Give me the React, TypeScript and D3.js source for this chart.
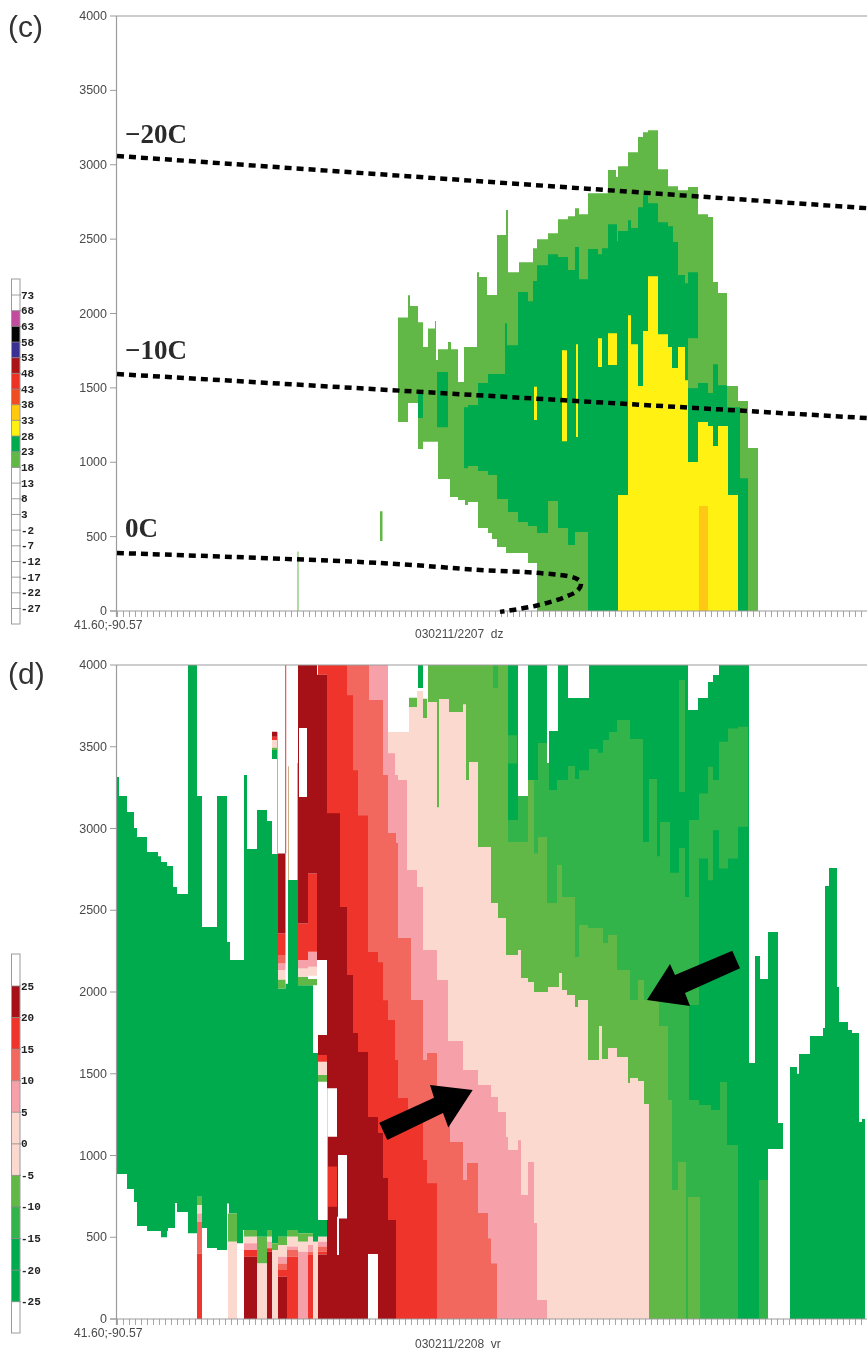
import React from "react";
import * as d3 from "d3";

// ---------- palette and legends ----------
const dzLegendTicks = [73, 68, 63, 58, 53, 48, 43, 38, 33, 28, 23, 18, 13, 8, 3, -2, -7, -12, -17, -22, -27];
const dzLegendBins: [number, number, string][] = [
  [63, 68, "#C24D9F"], [58, 63, "#050505"], [53, 58, "#3B3192"], [48, 53, "#AA1419"], [43, 48, "#EE3124"],
  [38, 43, "#F04D23"], [33, 38, "#FFC90E"], [28, 33, "#FFF212"], [23, 28, "#00AB4E"], [18, 23, "#62B846"],
];
const vrLegendTicks = [25, 20, 15, 10, 5, 0, -5, -10, -15, -20, -25];
const C = {
  darkRed: "#A51117", red: "#EF352B", salmon: "#F2685F", pink: "#F6A1AA", peach: "#FCD9CF",
  light: "#62B846", mid: "#33B44A", dark: "#00AB4E", yellow: "#FFF212", orange: "#FFC815", white: "#FFFFFF", tan: "#C9B28A",
};
const vrLegendBins: [number, number, string][] = [
  [20, 25, C.darkRed], [15, 20, C.red], [10, 15, C.salmon], [5, 10, C.pink], [0, 5, C.peach], [-5, 0, C.peach],
  [-10, -5, C.light], [-15, -10, C.mid], [-20, -15, C.dark], [-25, -20, C.dark],
];
const altitudeTicks = [0, 500, 1000, 1500, 2000, 2500, 3000, 3500, 4000];

// ---------- panel (c) reflectivity, columns: [gate, top m, base m]; the next row closes the column ----------
type Row = number[];
const dzWeak: Row[] = [
  [398, 1973, 1270], [408, 2123, 1398], [410, 2050, 1398], [418, 1942, 1089], [423, 1774, 1137], [428, 1900, 1137], [435, 1950, 1137], [436, 1687, 1137],
  [438, 1760, 887], [448, 1808, 887], [450, 1808, 766], [451, 1760, 766], [458, 1539, 746], [464, 1774, 746], [465, 1774, 712], [468, 1774, 733],
  [477, 2278, 733], [478, 2278, 558], [479, 2245, 558], [487, 2124, 558], [488, 2124, 524], [492, 2124, 484], [497, 2527, 430], [506, 2695, 390],
  [508, 2278, 390], [519, 2345, 390], [528, 2345, 322], [533, 2439, 322], [537, 2500, 0], [548, 2540, 0], [558, 2634, 0], [568, 2654, 0], [575, 2708, 0],
  [579, 2668, 0], [588, 2809, 0], [608, 2964, 0], [616, 2917, 0], [618, 2990, 0], [628, 3084, 0], [638, 3186, 0], [643, 3218, 0], [648, 3232, 0],
  [658, 2970, 0], [668, 2856, 0], [678, 2829, 0], [688, 2850, 0], [698, 2668, 0], [708, 2648, 0], [713, 2211, 0], [718, 2137, 0], [727, 1512, 0],
  [738, 1411, 0], [748, 1095, 0], [758, 0, 0],
];
const dzWeakSpecks: Row[] = [[297.5, 400, 0], [298.5, 0, 0], [380, 670, 470], [382.5, 0, 0]];
const dzModerate: Row[] = [
  [418, 1465, 1297], [423, 0, 0], [437, 1606, 1236], [448, 0, 0], [464, 1370, 960], [468, 1385, 975], [478, 1532, 941], [488, 1593, 914], [497, 1593, 753],
  [505, 1935, 753], [507, 1787, 753], [508, 1787, 665], [518, 2144, 598], [528, 2083, 571], [533, 2218, 571], [537, 2325, 524], [548, 2399, 739],
  [558, 2380, 558], [568, 2292, 443], [575, 2447, 531], [579, 2231, 531], [588, 2433, 0], [598, 2399, 0], [602, 2439, 0], [608, 2600, 0], [617, 2486, 0],
  [618, 2554, 0], [628, 2627, 0], [631, 2574, 0], [638, 2715, 0], [643, 2795, 0], [648, 2742, 0], [658, 2614, 0], [668, 2587, 0], [673, 2480, 0],
  [678, 2258, 0], [685, 2204, 0], [688, 2278, 0], [698, 1532, 0], [708, 1465, 0], [713, 1659, 0], [718, 1518, 0], [727, 1370, 0], [740, 893, 0], [748, 0, 0],
];
const dzWeakPatch: Row[] = [[688, 1834, 1498], [698, 0, 0]];
const dzStrong: Row[] = [
  [534, 1508, 1284], [537, 0, 0], [562, 1753, 1142], [567, 0, 0], [576, 1794, 1170], [578, 0, 0], [598, 1834, 1640], [602, 0, 0], [608, 1868, 1653], [617, 0, 0],
  [618, 780, 0], [628, 1989, 0], [631, 1794, 0], [638, 1512, 0], [643, 1882, 0], [648, 2251, 0], [658, 1861, 0], [668, 1774, 0], [672, 1633, 0], [678, 1774, 0],
  [685, 1552, 0], [688, 1001, 0], [698, 1270, 0], [708, 1244, 0], [713, 1109, 0], [718, 1244, 0], [728, 780, 0], [738, 0, 0],
];
const dzCore: Row[] = [[699, 706, 0], [708, 0, 0]];

// isotherms: gate and altitude
const isoMinus20X = [117, 867];
const isoMinus20Alt = [3059, 2708];
const isoMinus10X = [117, 867];
const isoMinus10Alt = [1593, 1297];
const isoZeroX = [117, 380, 480, 540, 575, 581, 578, 565, 535, 500];
const isoZeroAlt = [390, 323, 276, 255, 222, 190, 140, 94, 34, -6];

// ---------- panel (d) radial velocity, staircases: each colour fills from its top down ----------
const vrDarkGreen: Row[] = [
  [508, 4000], [518, 3199], [528, 4000], [547, 3400], [549, 3596], [558, 4000], [568, 3798], [589, 4000], [688, 3725], [698, 3798], [708, 3896], [713, 3939],
  [719, 4000], [749, 1566], [755, 2220], [760, 2080], [768, 2367, 1040], [778, 1199, 1040], [783, 0], [790, 1541], [797, 1500], [799, 1621], [810, 1731],
  [823, 1780], [825, 2648], [829, 2758], [837, 2030], [839, 1816], [848, 1767], [852, 1750], [859, 1205], [862, 1223], [865, 0],
];
const vrMidGreen: Row[] = [
  [508, 3052], [518, 3199], [528, 3296], [538, 3523], [547, 3400], [549, 3235], [557, 3296], [568, 3382], [575, 3302], [579, 3357], [589, 3486], [598, 3464],
  [603, 3541], [609, 3590], [617, 3664], [630, 3547], [643, 2917], [649, 3302], [657, 2830], [660, 3040], [670, 2730], [679, 2881], [685, 2581], [689, 3052], [699, 0],
];
const vrLightGreen: Row[] = [
  [409, 3800], [417, 0], [423, 3793], [427, 0], [428, 4000], [493, 3859], [498, 4000], [508, 2917], [528, 3296], [534, 2847], [538, 2948], [547, 2544], [557, 2776],
  [562, 2581], [575, 2214], [579, 2410], [588, 2391], [603, 2300], [608, 2348], [617, 2134], [630, 1951], [638, 2073], [644, 1951], [659, 1792], [668, 1339],
  [672, 789], [678, 960], [686, 0], [688, 746], [700, 0],
];
const vrPeach: Row[] = [
  [388, 3590], [409, 3743], [417, 3841], [423, 3676], [427, 3774], [437, 3130], [439, 3792], [449, 3712], [463, 3760], [466, 3296], [469, 3407], [478, 2887], [491, 2544],
  [498, 2452], [506, 2226], [518, 2257], [521, 2086], [528, 2061], [534, 2000], [548, 2030], [559, 2116], [562, 2012], [567, 1981], [575, 1908], [578, 1951],
  [588, 1584], [599, 1792], [602, 1590], [608, 1657], [617, 1602], [628, 1443], [630, 1474], [638, 1456], [644, 1315], [649, 0],
];
const vrPink: Row[] = [
  [369, 4000], [388, 3461], [395, 3327], [398, 3296], [407, 2746], [417, 2642], [423, 2257], [437, 2073], [448, 1700], [463, 1523], [478, 1431], [491, 1358],
  [498, 1266], [506, 1113], [508, 1034], [518, 1094], [521, 758], [528, 960], [534, 587], [537, 116], [547, 0],
];
const vrSalmon: Row[] = [
  [347, 4000], [369, 3786], [383, 3327], [388, 2972], [396, 2911], [398, 2330], [411, 1951], [423, 1584], [427, 1627], [437, 1339], [450, 1082], [463, 850],
  [467, 954], [478, 648], [488, 493], [491, 340], [497, 0],
];
const vrRed: Row[] = [
  [327, 4000], [347, 3815], [353, 3357], [358, 3080], [368, 2244], [378, 2182], [383, 1950], [388, 1828], [395, 1584], [398, 1351], [408, 1235], [423, 972], [427, 831], [437, 0],
];
const vrDarkRed: Row[] = [
  [327, 3094], [340, 2520], [347, 2104], [353, 1749], [358, 1633], [368, 1235], [378, 1137], [383, 862], [388, 605], [396, 0],
];
// the inbound mass on the left: [gate, top, base]
const vrInbound: Row[] = [
  [117, 3315, 887], [119, 3199, 887], [127, 3101, 795], [134, 3003, 716], [137, 2948, 569], [147, 2856, 538], [158, 2830, 538], [161, 2795, 500], [167, 2771, 538],
  [168, 2771, 556], [173, 2642, 556], [175, 2642, 709], [177, 2599, 654], [188, 4000, 525], [197, 3199, 748], [202, 2398, 556], [207, 2398, 434], [217, 3199, 422],
  [227, 2306, 707], [229, 2306, 646], [230, 2196, 646], [237, 2196, 463], [243, 2196, 544], [244, 3327, 544], [247, 2875, 544], [257, 3113, 503], [267, 3046, 544],
  [272, 2844, 463], [278, 2022, 503], [285.5, 2050, 503], [287, 2050, 544], [288, 2685, 544], [298, 2042, 524], [308, 2042, 524], [313, 1627, 473], [318, 605, 503], [327, 0, 0],
];
// loose cells: [from gate, to gate, low m, high m]
const vrCellsDarkGreen: Row[] = [[418, 423, 3860, 4000], [689, 699, 1339, 1920], [272, 277, 3425, 3480]];
const vrCellsMidGreen: Row[] = [
  [699, 708, 2817, 3214], [708, 713, 2684, 3378], [713, 719, 2990, 3296], [719, 728, 2756, 3530], [728, 738, 2817, 3612], [738, 748, 3010, 3622], [679, 685, 3224, 3908],
  [508, 517, 3398, 3570], [493, 498, 3859, 4000], [689, 695, 0, 1339], [695, 711, 0, 1309], [711, 720, 0, 1278], [720, 727, 0, 1449], [727, 738, 0, 1064], [759, 768, 0, 850],
];
const vrCellsLight: Row[] = [
  [197, 202, 697, 748], [228, 237, 473, 646], [244, 257, 503, 544], [257, 267, 340, 503], [267, 272, 503, 544], [272, 278, 422, 463], [278, 287, 453, 503], [287, 298, 503, 544],
  [298, 308, 473, 524], [308, 313, 503, 524], [278, 285.5, 2022, 2077], [298, 308, 2042, 2093], [308, 317, 2042, 2080], [318, 327, 1451, 1492], [272, 277, 3480, 3496],
];
const vrCellsPeach: Row[] = [
  [197, 202, 646, 697], [228, 237, 0, 473], [244, 257, 463, 503], [257, 267, 0, 340], [267, 272, 473, 503], [272, 278, 0, 422], [278, 287, 381, 453], [287, 298, 443, 503],
  [298, 308, 412, 473], [308, 313, 453, 503], [313, 318, 0, 473], [318, 327, 473, 503], [278, 285.5, 2077, 2134], [298, 308, 2093, 2144], [308, 317, 2100, 2154], [318, 327, 1492, 1574], [272, 277, 3496, 3541],
];
const vrCellsPink: Row[] = [
  [197, 202, 595, 646], [244, 257, 422, 463], [267, 272, 432, 473], [278, 287, 340, 381], [287, 298, 422, 443], [298, 308, 0, 412], [308, 313, 412, 453], [318, 327, 443, 473],
  [278, 285.5, 2134, 2175], [298, 308, 2144, 2195], [308, 317, 2154, 2246],
];
const vrCellsSalmon: Row[] = [[197, 202, 401, 595], [278, 287, 300, 340], [287, 298, 381, 422], [308, 313, 392, 412], [318, 327, 412, 443], [278, 285.5, 2175, 2226]];
const vrCellsRed: Row[] = [
  [197, 202, 0, 401], [244, 257, 381, 422], [267, 272, 412, 432], [278, 287, 259, 300], [287, 298, 0, 381], [308, 313, 0, 392], [318, 327, 395, 412], [318, 327, 1574, 1614],
  [278, 285.5, 2226, 2358], [298, 308, 2195, 2419], [308, 317, 2246, 2725], [328, 337, 687, 932], [318, 327, 3940, 4000], [272, 277, 3541, 3561], [285.2, 286.2, 2847, 4000],
];
const vrCellsDarkRed: Row[] = [
  [244, 257, 0, 381], [267, 272, 0, 412], [278, 287, 0, 259], [318, 327, 0, 395], [318, 327, 1614, 1737], [278, 285.5, 2358, 2847], [298, 308, 2419, 4000], [308, 317, 2725, 4000],
  [317, 327, 2195, 3940], [272, 277, 3561, 3592],
];
const vrCellsTan: Row[] = [[277, 278, 2844, 3590], [297, 298, 2685, 3400], [288, 289, 2685, 3380], [327, 328, 605, 1411]];
const vrCellsWhite: Row[] = [[299, 307, 3192, 3615], [327.5, 337, 1115, 1411], [318, 327, 605, 1411], [338, 347, 615, 1003], [337, 339, 391, 626], [368, 378, 0, 397]];
// annotation arrows: gate and altitude
const arrowUpX = [379.3, 434, 430, 472.7, 448.3, 443, 387.3];
const arrowUpAlt = [1201, 1353, 1431, 1400, 1172, 1260, 1095];
const arrowDownX = [732.3, 675, 670, 647, 690, 685, 740];
const arrowDownAlt = [2253, 2104, 2171, 1951, 1914, 1994, 2145];

// ---------- drawing ----------
const W = 867;
const gate = d3.scaleLinear().domain([117, 867]).range([117, W]);
const altC = d3.scaleLinear().domain([0, 4000]).range([611, 16]);
const altD = d3.scaleLinear().domain([0, 4000]).range([1319, 665]);
const legC = d3.scaleLinear().domain([73, -27]).range([295, 608.5]);
const legD = d3.scaleLinear().domain([25, -25]).range([986, 1301.7]);
const tickGates = d3.range(117, 867, 6);
const GREY = "#9C9C9C";
const SANS = "'Liberation Sans', Arial, sans-serif";
const MONO = "'Liberation Mono', monospace";
const SERIF = "'Liberation Serif', serif";

function stairs(rows: Row[], y: d3.ScaleLinear<number, number>) {
  const p = d3.path();
  rows.slice(0, -1).forEach((r, i) => {
    const base = r[2] || 0;
    if (r[1] > base) p.rect(gate(r[0]), y(r[1]), gate(rows[i + 1][0]) - gate(r[0]), y(base) - y(r[1]));
  });
  return p.toString();
}
function cells(rows: Row[], y: d3.ScaleLinear<number, number>) {
  const p = d3.path();
  rows.forEach((r) => p.rect(gate(r[0]), y(r[3]), gate(r[1]) - gate(r[0]), y(r[2]) - y(r[3])));
  return p.toString();
}
function poly(xs: number[], alts: number[], y: d3.ScaleLinear<number, number>) {
  return xs.map((x, i) => `${gate(x)},${y(alts[i])}`).join(" ");
}
function dashed(xs: number[], alts: number[], curve: d3.CurveFactory) {
  const pts = xs.map((x, i) => [x, alts[i]] as [number, number]);
  return d3.line<[number, number]>().x((d) => gate(d[0])).y((d) => altC(d[1])).curve(curve)(pts) || "";
}

function Axes({ y, stamp, stampY }: { y: d3.ScaleLinear<number, number>; stamp: string; stampY: number }) {
  const y0 = y(0);
  const yTop = y(4000);
  return (
    <g>
      <line x1={116.5} x2={116.5} y1={yTop} y2={y0 + 6} stroke={GREY} strokeWidth={1.2} />
      <line x1={116} x2={W} y1={yTop} y2={yTop} stroke={GREY} strokeWidth={1.2} />
      <line x1={110} x2={W} y1={y0} y2={y0} stroke={GREY} strokeWidth={1.2} />
      {tickGates.map((g) => (
        <line key={g} x1={gate(g) + 0.5} x2={gate(g) + 0.5} y1={y0} y2={y0 + 6} stroke={GREY} strokeWidth={0.9} />
      ))}
      {altitudeTicks.map((t) => (
        <g key={t}>
          <line x1={110} x2={116} y1={y(t)} y2={y(t)} stroke={GREY} strokeWidth={1} />
          <text x={107} y={y(t) + 4} textAnchor="end" fontFamily={SANS} fontSize={12.5} fill="#4A4A4A">{t}</text>
        </g>
      ))}
      <text x={74} y={y0 + 17.5} fontFamily={SANS} fontSize={12.2} fill="#4A4A4A">41.60;-90.57</text>
      <text x={415} y={stampY} fontFamily={SANS} fontSize={12} fill="#4A4A4A" xmlSpace="preserve">{stamp}</text>
    </g>
  );
}

function Legend({ scale, ticks, bins, top, bottom }: { scale: d3.ScaleLinear<number, number>; ticks: number[]; bins: [number, number, string][]; top: number; bottom: number }) {
  return (
    <g>
      {bins.map(([lo, hi, c]) => (
        <rect key={lo} x={11.5} width={8.5} y={scale(hi)} height={scale(lo) - scale(hi)} fill={c} />
      ))}
      <rect x={11.5} y={top} width={8.5} height={bottom - top} fill="none" stroke={GREY} strokeWidth={1} />
      {ticks.map((t) => (
        <g key={t}>
          <line x1={11.5} x2={21} y1={scale(t)} y2={scale(t)} stroke="#888" strokeWidth={0.8} />
          <text x={21} y={scale(t) + 3.5} fontFamily={MONO} fontWeight={700} fontSize={11} fill="#222">{t}</text>
        </g>
      ))}
    </g>
  );
}

export default function App() {
  const isoStyle = { fill: "none", stroke: "#000", strokeWidth: 4.5, strokeDasharray: "7 5" };
  const labelStyle = { fontFamily: SERIF, fontWeight: 700, fontSize: 27, fill: "#2A2A2A" };
  return (
    <svg width={W} height={1350} viewBox={`0 0 ${W} 1350`} style={{ position: "absolute", left: 0, top: 0, background: "#fff", filter: "blur(0.4px)" }}>
      <text x={8} y={37} fontFamily={SANS} fontSize={30} fill="#333">(c)</text>
      <text x={8} y={684} fontFamily={SANS} fontSize={30} fill="#333">(d)</text>

      <Legend scale={legC} ticks={dzLegendTicks} bins={dzLegendBins} top={279} bottom={624} />
      <Legend scale={legD} ticks={vrLegendTicks} bins={vrLegendBins} top={954} bottom={1333} />

      <path d={stairs(dzWeak, altC)} fill={C.light} />
      <path d={stairs(dzWeakSpecks, altC)} fill={C.light} />
      <path d={stairs(dzModerate, altC)} fill={C.dark} />
      <path d={stairs(dzWeakPatch, altC)} fill={C.light} />
      <path d={stairs(dzStrong, altC)} fill={C.yellow} />
      <path d={stairs(dzCore, altC)} fill={C.orange} />
      <Axes y={altC} stamp="030211/2207  dz" stampY={638} />
      <path d={dashed(isoMinus20X, isoMinus20Alt, d3.curveLinear)} {...isoStyle} />
      <path d={dashed(isoMinus10X, isoMinus10Alt, d3.curveLinear)} {...isoStyle} />
      <path d={dashed(isoZeroX, isoZeroAlt, d3.curveCatmullRom)} {...isoStyle} />
      <text x={125} y={143} {...labelStyle}>−20C</text>
      <text x={125} y={359} {...labelStyle}>−10C</text>
      <text x={125} y={537} {...labelStyle}>0C</text>

      <path d={stairs(vrDarkGreen, altD)} fill={C.dark} />
      <path d={stairs(vrMidGreen, altD)} fill={C.mid} />
      <path d={cells(vrCellsDarkGreen, altD)} fill={C.dark} />
      <path d={cells(vrCellsMidGreen, altD)} fill={C.mid} />
      <path d={stairs(vrLightGreen, altD)} fill={C.light} />
      <path d={stairs(vrPeach, altD)} fill={C.peach} />
      <path d={stairs(vrPink, altD)} fill={C.pink} />
      <path d={stairs(vrSalmon, altD)} fill={C.salmon} />
      <path d={stairs(vrRed, altD)} fill={C.red} />
      <path d={stairs(vrDarkRed, altD)} fill={C.darkRed} />
      <path d={stairs(vrInbound, altD)} fill={C.dark} />
      <path d={cells(vrCellsLight, altD)} fill={C.light} />
      <path d={cells(vrCellsPeach, altD)} fill={C.peach} />
      <path d={cells(vrCellsPink, altD)} fill={C.pink} />
      <path d={cells(vrCellsSalmon, altD)} fill={C.salmon} />
      <path d={cells(vrCellsRed, altD)} fill={C.red} />
      <path d={cells(vrCellsDarkRed, altD)} fill={C.darkRed} />
      <path d={cells(vrCellsTan, altD)} fill={C.tan} />
      <path d={cells(vrCellsWhite, altD)} fill={C.white} />
      <Axes y={altD} stamp="030211/2208  vr" stampY={1348} />
      <polygon points={poly(arrowUpX, arrowUpAlt, altD)} fill="#000" />
      <polygon points={poly(arrowDownX, arrowDownAlt, altD)} fill="#000" />
    </svg>
  );
}
